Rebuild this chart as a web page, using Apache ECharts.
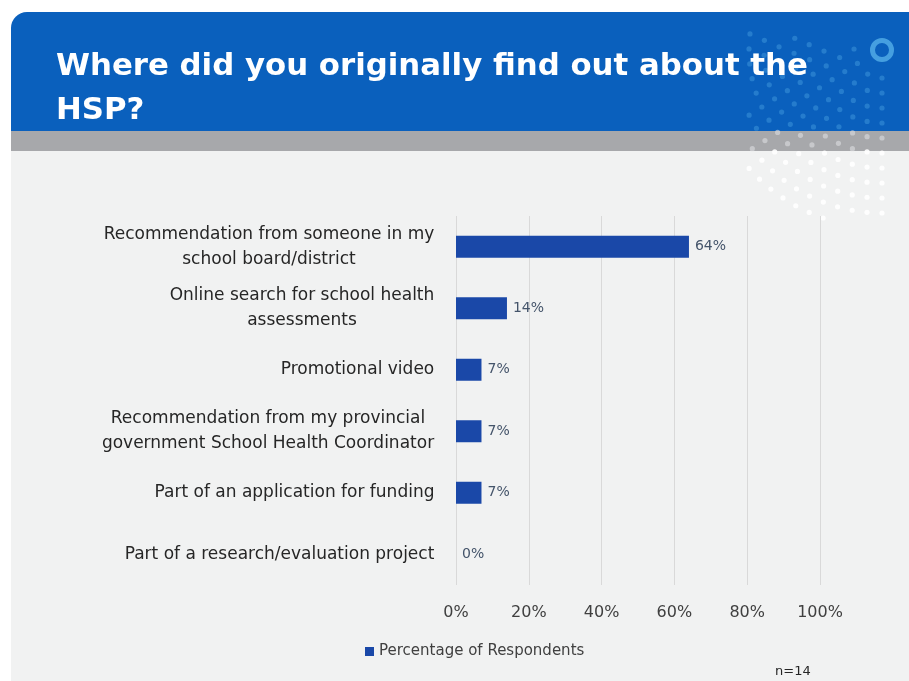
<!DOCTYPE html>
<html>
<head>
<meta charset="utf-8">
<script src="https://cdn.jsdelivr.net/npm/echarts@6/dist/echarts.min.js"></script>
<style>
  html, body { margin: 0; padding: 0; background: #ffffff; }
  #main { width: 909px; height: 681px; }
</style>
</head>
<body>
<div id="main"></div>
<script>
const categories = [
  'Recommendation from someone in my\nschool board/district',
  'Online search for school health\nassessments',
  'Promotional video',
  'Recommendation from my provincial\ngovernment School Health Coordinator',
  'Part of an application for funding',
  'Part of a research/evaluation project'
]
const percentRespondents = [64, 14, 7, 7, 7, 0]
const xTicks = [0, 20, 40, 60, 80, 100]
const sampleNote = 'n=14'

const labelFont = '17px "DejaVu Sans", sans-serif'

const chart = echarts.init(document.getElementById('main'))

// wrapped category lines are centred under each other, block right-aligned
const ctx = document.createElement('canvas').getContext('2d')
ctx.font = labelFont
const catRich = {}
categories.forEach((c, i) => {
  const w = Math.max(...c.split('\n').map(s => ctx.measureText(s).width))
  catRich['c' + i] = { width: Math.ceil(w) + 1, align: 'center', fontSize: 17, lineHeight: 25, color: '#262626' }
})

// background dot arcs in the header corner (decoration only)
const dots = []
for (let rad = 28; rad <= 180; rad += 15) {
  const step = 15 / rad
  for (let a = Math.PI * 0.5; a <= Math.PI * 1.05; a += step) {
    const x = 882 + Math.cos(a) * rad
    const y = 50 + Math.sin(a) * rad
    if (x < 745 || y > 222) continue
    let fill = 'rgba(70,160,225,0.45)'
    if (y > 131 && y < 151) fill = 'rgba(220,222,225,0.6)'
    if (y >= 151) fill = 'rgba(255,255,255,0.9)'
    dots.push({
      type: 'circle',
      shape: { cx: x, cy: y, r: 2.6 },
      style: { fill: fill },
      z: -9,
      silent: true
    })
  }
}

const option = {
  backgroundColor: '#ffffff',
  textStyle: { fontFamily: 'DejaVu Sans, sans-serif' },
  graphic: [
    { type: 'rect', shape: { x: 11, y: 151, width: 898, height: 530 }, style: { fill: '#f1f2f2' }, z: -10, silent: true },
    { type: 'rect', shape: { x: 11, y: 12, width: 898, height: 120, r: [16, 0, 0, 0] }, style: { fill: '#0a60bd' }, z: -10, silent: true },
    { type: 'rect', shape: { x: 11, y: 131, width: 898, height: 20 }, style: { fill: '#a7a8ab' }, z: -10, silent: true },
    ...dots,
    { type: 'ring', shape: { cx: 882, cy: 50, r: 12, r0: 7 }, style: { fill: 'rgba(80,170,230,0.85)' }, z: -8, silent: true }
  ],
  title: [
    {
      text: 'Where did you originally find out about the\nHSP?',
      left: 51,
      top: 40,
      textStyle: {
        color: '#ffffff',
        fontFamily: 'DejaVu Sans, sans-serif',
        fontWeight: 'bold',
        fontSize: 30.8,
        lineHeight: 44
      }
    },
    {
      text: sampleNote,
      left: 770,
      top: 660,
      textStyle: { color: '#262626', fontSize: 13, fontWeight: 'normal', fontFamily: 'DejaVu Sans, sans-serif' }
    }
  ],
  legend: {
    data: ['Percentage of Respondents'],
    left: 360,
    top: 639,
    icon: 'rect',
    itemWidth: 9,
    itemHeight: 9,
    itemGap: 6,
    textStyle: { color: '#404040', fontSize: 15, fontFamily: 'DejaVu Sans, sans-serif' }
  },
  grid: {
    left: 456,
    right: 89,
    top: 216,
    bottom: 96,
    containLabel: false
  },
  xAxis: {
    type: 'value',
    min: 0,
    max: 100,
    interval: 20,
    axisLine: { show: false },
    axisTick: { show: false },
    splitLine: { show: true, lineStyle: { color: '#d9d9d9', width: 1 } },
    axisLabel: {
      margin: 20,
      color: '#404040',
      fontSize: 16,
      formatter: v => xTicks.includes(v) ? v + '%' : ''
    }
  },
  yAxis: {
    type: 'category',
    data: categories,
    inverse: true,
    axisLine: { show: false },
    axisTick: { show: false },
    axisLabel: {
      margin: 21,
      color: '#262626',
      fontSize: 17,
      lineHeight: 25,
      align: 'right',
      formatter: (v, i) => v.split('\n').map(s => '{c' + i + '|' + s + '}').join('\n'),
      rich: catRich
    }
  },
  series: [
    {
      name: 'Percentage of Respondents',
      type: 'bar',
      data: percentRespondents,
      barWidth: 22,
      itemStyle: { color: '#1a48a8' },
      label: {
        show: true,
        position: 'right',
        distance: 6,
        color: '#44546a',
        fontSize: 14,
        formatter: p => p.value + '%'
      }
    }
  ]
}

chart.setOption(option)
</script>
</body>
</html>
